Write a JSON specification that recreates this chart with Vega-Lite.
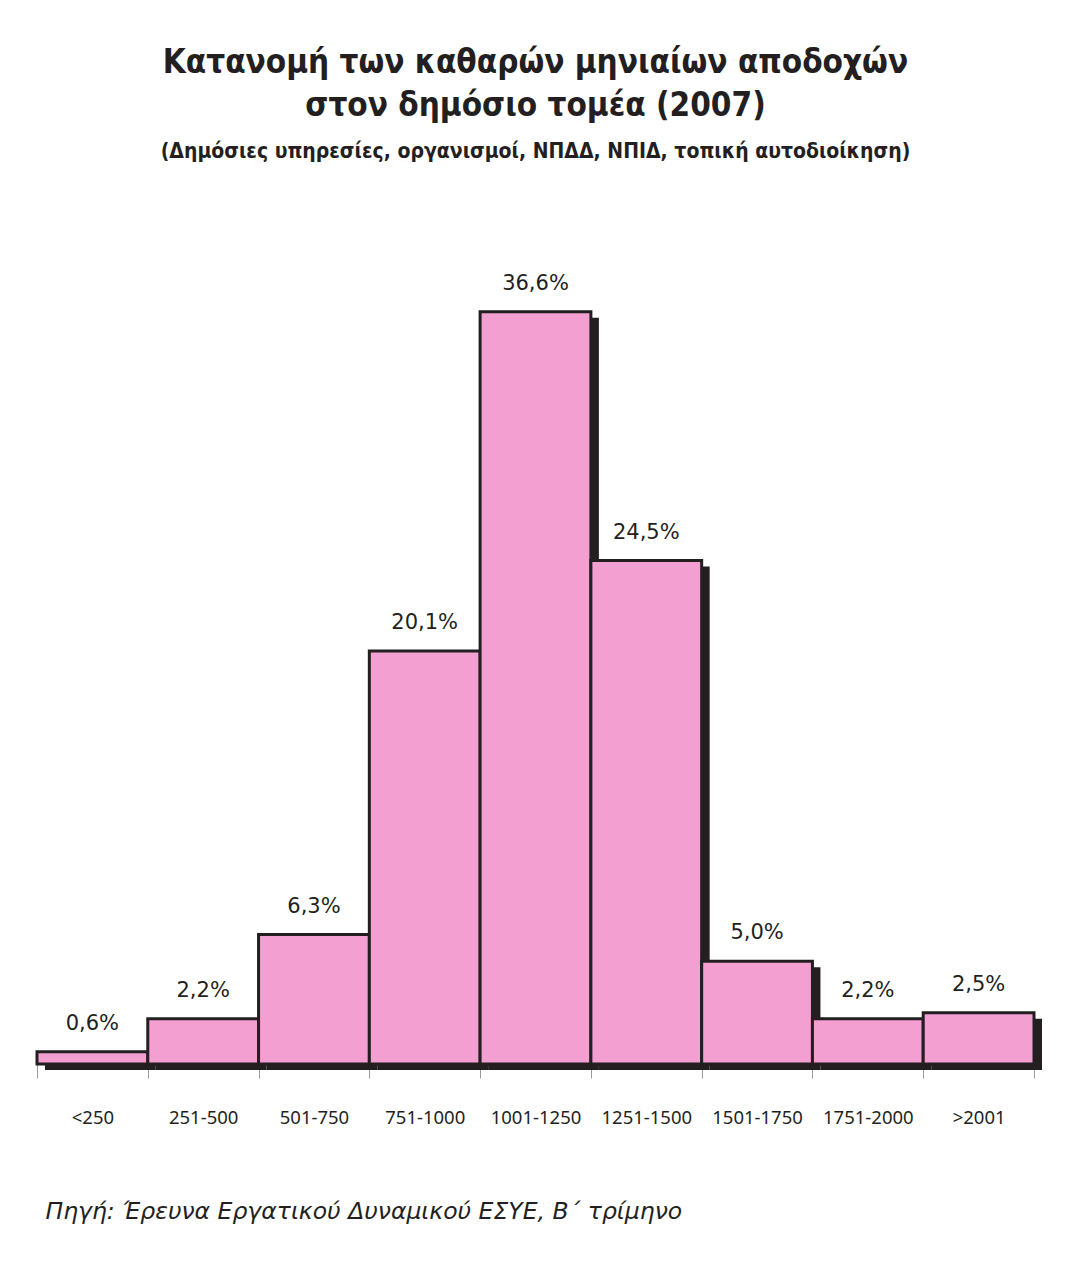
{
  "$schema": "https://vega.github.io/schema/vega-lite/v6.json",
  "autosize": {"type": "none"},
  "width": 997,
  "height": 822,
  "padding": {"left": 37, "top": 242, "right": 46, "bottom": 219},
  "background": "white",
  "title": {
    "text": ["Κατανομή των καθαρών μηνιαίων αποδοχών", "στον δημόσιο τομέα (2007)"],
    "subtitle": "(Δημόσιες υπηρεσίες, οργανισμοί, ΝΠΔΔ, ΝΠΙΔ, τοπική αυτοδιοίκηση)",
    "anchor": "middle",
    "font": "DejaVu Sans Condensed",
    "fontSize": 33,
    "fontWeight": "bold",
    "lineHeight": 43,
    "color": "#231f20",
    "subtitleFont": "DejaVu Sans Condensed",
    "subtitleFontSize": 21,
    "subtitleFontWeight": "bold",
    "subtitleColor": "#231f20",
    "subtitlePadding": 18,
    "offset": 80
  },
  "data": {
    "values": [
      {"cat": "<250", "x0": 0, "x1": 250, "pct": 0.6},
      {"cat": "251-500", "x0": 250, "x1": 500, "pct": 2.2},
      {"cat": "501-750", "x0": 500, "x1": 750, "pct": 6.3},
      {"cat": "751-1000", "x0": 750, "x1": 1000, "pct": 20.1},
      {"cat": "1001-1250", "x0": 1000, "x1": 1250, "pct": 36.6},
      {"cat": "1251-1500", "x0": 1250, "x1": 1500, "pct": 24.5},
      {"cat": "1501-1750", "x0": 1500, "x1": 1750, "pct": 5.0},
      {"cat": "1751-2000", "x0": 1750, "x1": 2000, "pct": 2.2},
      {"cat": ">2001", "x0": 2000, "x1": 2250, "pct": 2.5}
    ]
  },
  "transform": [
    {"calculate": "(datum.x0 + datum.x1) / 2", "as": "mid"},
    {"calculate": "replace(format(datum.pct, '.1f'), '.', ',') + '%'", "as": "label"}
  ],
  "encoding": {
    "x": {
      "field": "x0",
      "type": "quantitative",
      "scale": {"domain": [0, 2250], "nice": false, "zero": false},
      "axis": {
        "values": [0, 250, 500, 750, 1000, 1250, 1500, 1750, 2000, 2250],
        "labelExpr": "datum.value < 2250 ? ['<250','251-500','501-750','751-1000','1001-1250','1251-1500','1501-1750','1751-2000','>2001'][datum.value / 250] : ''",
        "labelOffset": 55.4,
        "labelOverlap": false,
        "labelFlush": false,
        "labelBound": false,
        "labelFont": "Noto Sans",
        "labelFontSize": 18.5,
        "labelColor": "#231f20",
        "labelPadding": 30,
        "domain": false,
        "grid": false,
        "ticks": true,
        "tickColor": "#9a9a9a",
        "tickWidth": 1,
        "tickSize": 14,
        "title": "Πηγή: Έρευνα Εργατικού Δυναμικού ΕΣΥΕ, Β΄ τρίμηνο",
        "titleFont": "DejaVu Sans",
        "titleFontSize": 23.5,
        "titleFontStyle": "italic",
        "titleFontWeight": "normal",
        "titleColor": "#231f20",
        "titleAnchor": "start",
        "titleAlign": "left",
        "titleX": 8,
        "titlePadding": 73
      }
    },
    "y": {
      "field": "pct",
      "type": "quantitative",
      "scale": {"domain": [0, 40], "nice": false},
      "axis": null
    }
  },
  "layer": [
    {
      "mark": {"type": "bar", "color": "#231f20", "xOffset": 8, "x2Offset": 8, "yOffset": 6, "y2Offset": 6},
      "encoding": {"x2": {"field": "x1"}, "y2": {"datum": 0}}
    },
    {
      "mark": {"type": "bar", "color": "#f49fd2", "stroke": "#231f20", "strokeWidth": 3},
      "encoding": {"x2": {"field": "x1"}, "y2": {"datum": 0}}
    },
    {
      "mark": {"type": "text", "baseline": "bottom", "dy": -18, "font": "DejaVu Sans", "fontSize": 21, "color": "#231f20"},
      "encoding": {"x": {"field": "mid", "type": "quantitative"}, "text": {"field": "label"}}
    }
  ],
  "config": {"view": {"stroke": null}}
}
